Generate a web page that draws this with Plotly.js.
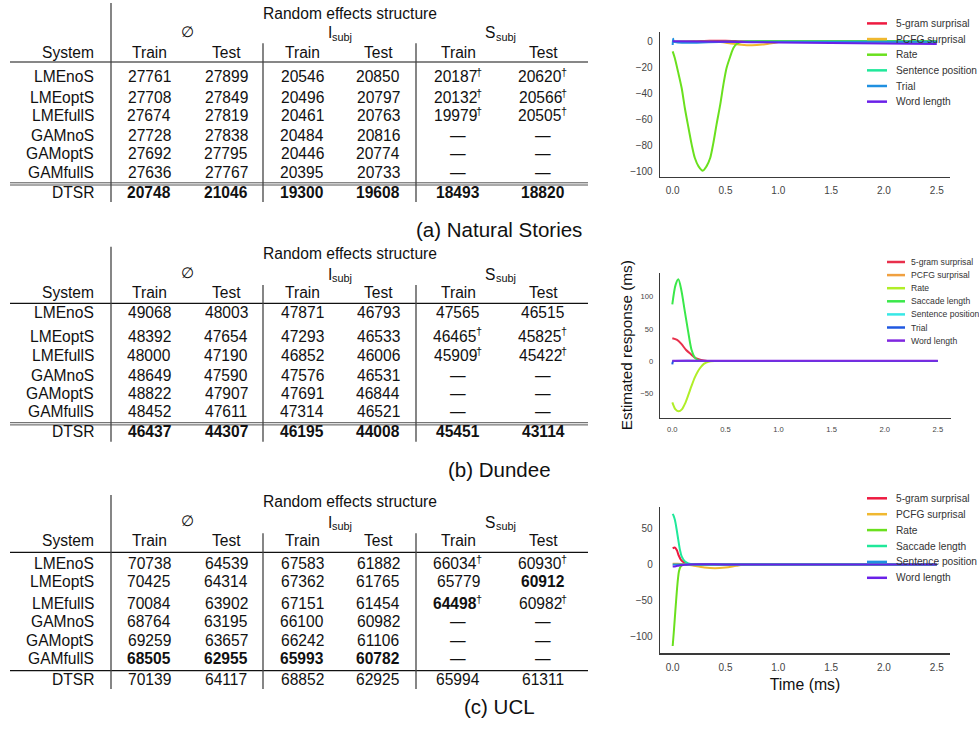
<!DOCTYPE html>
<html><head><meta charset="utf-8">
<script src="https://cdn.plot.ly/plotly-3.0.1.min.js"></script>
<style>html,body{margin:0;padding:0;background:#fff;}#chart{width:979px;height:740px;}</style>
</head><body><div id="chart"></div>
<script>
// ---------------- TABLE DATA ----------------
const systems = ['LMEnoS','LMEoptS','LMEfullS','GAMnoS','GAMoptS','GAMfullS','DTSR'];
const columnHeads = ['Train','Test','Train','Test','Train','Test'];
const groupMain = ['\u2205','I','S'];
const groupSub = ['','subj','subj'];
const tableTitle = 'Random effects structure';

const nsTable = [
  [27761,27899,20546,20850,20187,20620],
  [27708,27849,20496,20797,20132,20566],
  [27674,27819,20461,20763,19979,20505],
  [27728,27838,20484,20816,null,null],
  [27692,27795,20446,20774,null,null],
  [27636,27767,20395,20733,null,null],
  [20748,21046,19300,19608,18493,18820]];
const nsDagger = [[0,4],[0,5],[1,4],[1,5],[2,4],[2,5]];
const nsBold = [[6,0],[6,1],[6,2],[6,3],[6,4],[6,5]];

const duTable = [
  [49068,48003,47871,46793,47565,46515],
  [48392,47654,47293,46533,46465,45825],
  [48000,47190,46852,46006,45909,45422],
  [48649,47590,47576,46531,null,null],
  [48822,47907,47691,46844,null,null],
  [48452,47611,47314,46521,null,null],
  [46437,44307,46195,44008,45451,43114]];
const duDagger = [[1,4],[1,5],[2,4],[2,5]];
const duBold = [[6,0],[6,1],[6,2],[6,3],[6,4],[6,5]];

const uclTable = [
  [70738,64539,67583,61882,66034,60930],
  [70425,64314,67362,61765,65779,60912],
  [70084,63902,67151,61454,64498,60982],
  [68764,63195,66100,60982,null,null],
  [69259,63657,66242,61106,null,null],
  [68505,62955,65993,60782,null,null],
  [70139,64117,68852,62925,65994,61311]];
const uclDagger = [[0,4],[0,5],[2,4],[2,5]];
const uclBold = [[1,5],[2,4],[5,0],[5,1],[5,2],[5,3]];

const captions = ['(a) Natural Stories','(b) Dundee','(c) UCL'];

// ---------------- LINE DATA ----------------
const xTickVals = [0,0.5,1,1.5,2,2.5];
const xTickText = ['0.0','0.5','1.0','1.5','2.0','2.5'];
const nsYTicks = [-100,-80,-60,-40,-20,0];
const duYTicks = [-50,0,50,100];
const uclYTicks = [-100,-50,0,50];

// (a) Natural Stories
const nsNames = ['5-gram surprisal','PCFG surprisal','Rate','Sentence position','Trial','Word length'];
const nsFiveX = [0,0.2,0.35,0.5,0.65,0.8,1.0,1.5,2.0,2.5];
const nsFiveY = [0,0.3,0.8,0.8,0.4,0.1,0,0,0,0];
const nsPcfgX = [0,0.3,0.45,0.55,0.65,0.75,0.85,0.95,1.03,1.5,2.0,2.5];
const nsPcfgY = [0,0,-0.2,-1.3,-2.3,-2.7,-2.2,-1.0,-0.1,0,0,0];
const nsRateX = [0,0.02,0.05,0.085,0.115,0.15,0.18,0.21,0.245,0.285,0.32,0.355,0.385,0.415,0.45,0.48,0.51,0.545,0.575,0.605,0.64,0.7,1.0,1.5,2.0,2.5];
const nsRateY = [-7.4,-12.5,-22.8,-35.6,-51,-66.4,-79.2,-89.5,-95.9,-99.2,-95.9,-89.5,-77.9,-63.8,-48.4,-33,-20.2,-11.3,-4.8,-1.8,-0.5,0.3,0.5,0.5,0.5,0.5];
const nsSentX = [0,0.5,1.0,1.5,2.0,2.5];
const nsSentY = [0,0,0,0,0,0];
const nsTrialX = [0,0.004,0.012,0.5,1.0,1.5,2.0,2.5];
const nsTrialY = [-2.5,2.4,0,0,0,0,0,0];
const nsWordX = [0,0.5,1.0,1.5,2.0,2.5];
const nsWordY = [0.3,-0.1,-0.5,-0.9,-1.3,-1.8];

// (b) Dundee
const duNames = ['5-gram surprisal','PCFG surprisal','Rate','Saccade length','Sentence position','Trial','Word length'];
const duFiveX = [0,0.045,0.085,0.13,0.18,0.22,0.27,0.33,0.5,1.0,1.5,2.0,2.5];
const duFiveY = [35.4,32.8,26.6,17.2,10,4.5,1.7,0.3,0,0,0,0,0];
const duPcfgX = [0,0.5,1.0,1.5,2.0,2.5];
const duPcfgY = [0,0,0,0,0,0];
const duRateX = [0,0.03,0.06,0.09,0.12,0.15,0.18,0.21,0.24,0.27,0.3,0.34,0.4,0.6,1.0,1.5,2.0,2.5];
const duRateY = [-64,-75,-78,-75,-66,-53,-39,-26,-16,-9,-4,-1,0,0,0,0,0,0];
const duSacX = [0,0.03,0.057,0.085,0.115,0.148,0.18,0.21,0.24,0.27,0.3,0.5,1.0,1.5,2.0,2.5];
const duSacY = [88,118,127,110,80,47,18,6,1.5,0.3,0,0,0,0,0,0];
const duSentX = [0,0.5,1.0,1.5,2.0,2.5];
const duSentY = [0,0,0,0,0,0];
const duTrialX = [0,0.005,0.015,0.5,1.0,1.5,2.0,2.5];
const duTrialY = [-5,-1,0,0,0,0,0,0];
const duWordX = [0,0.5,1.0,1.5,2.0,2.5];
const duWordY = [0.5,0.5,0.5,0.5,0.5,0.5];

// (c) UCL
const uclNames = ['5-gram surprisal','PCFG surprisal','Rate','Saccade length','Sentence position','Word length'];
const uclFiveX = [0,0.02,0.04,0.055,0.08,0.11,0.15,0.3,0.6,1.0,1.5,2.0,2.5];
const uclFiveY = [22.3,23.5,19.5,13,6,2.4,0.3,0,0,0,0,0,0];
const uclPcfgX = [0,0.05,0.1,0.15,0.2,0.3,0.4,0.5,0.6,0.68,1.0,1.5,2.0,2.5];
const uclPcfgY = [1,1,0.5,-0.5,-1.8,-4.2,-5.3,-4.3,-2,-0.3,0,0,0,0];
const uclRateX = [0,0.01,0.02,0.03,0.04,0.05,0.06,0.075,0.1,0.15,0.3,0.6,1.0,1.5,2.0,2.5];
const uclRateY = [-113,-95,-75,-55,-36,-20,-9,-3,-0.5,0,0,0,0,0,0,0];
const uclSacX = [0,0.01,0.022,0.038,0.053,0.069,0.085,0.116,0.148,0.2,0.4,1.0,1.5,2.0,2.5];
const uclSacY = [70,67,61,48,34,20,11,4,1.5,0.2,0,0,0,0,0];
const uclSentX = [0,0.5,1.0,1.5,2.0,2.5];
const uclSentY = [0,0,0,0,0,0];
const uclWordX = [0,0.03,0.06,0.1,0.15,0.5,1.0,1.5,2.0,2.5];
const uclWordY = [-3,-2.5,-1.5,-0.7,0,0,0,0,0,0];

// ---------------- STYLE ----------------
const FONT = 'Liberation Sans, Arial, Helvetica, sans-serif';
const nsColors = ['#ee1a40','#f0b830','#6ae01e','#20e89a','#2090e0','#6a20e8'];
const duColors = ['#e8304c','#f0a040','#b0ee28','#3ae84a','#38e8e6','#2058e0','#8028e0'];
const uclColors = ['#ee1a40','#f0b830','#6ae01e','#20e89a','#2090e0','#6a20e8'];

const PX = v => v/979;
const PY = v => 1 - v/740;

const traces = [];
function addSeries(names, colors, xs, ys, xa, ya){
  for(let i=0;i<names.length;i++){
    traces.push({type:'scatter', mode:'lines', name:names[i], x:xs[i], y:ys[i],
      xaxis:xa, yaxis:ya, showlegend:false, hoverinfo:'skip',
      line:{color:colors[i], width:2, shape:'spline', smoothing:0.8}});
  }
}
addSeries(nsNames, nsColors,
  [nsFiveX,nsPcfgX,nsRateX,nsSentX,nsTrialX,nsWordX],
  [nsFiveY,nsPcfgY,nsRateY,nsSentY,nsTrialY,nsWordY],'x','y');
addSeries(duNames, duColors,
  [duFiveX,duPcfgX,duRateX,duSacX,duSentX,duTrialX,duWordX],
  [duFiveY,duPcfgY,duRateY,duSacY,duSentY,duTrialY,duWordY],'x2','y2');
addSeries(uclNames, uclColors,
  [uclFiveX,uclPcfgX,uclRateX,uclSacX,uclSentX,uclWordX],
  [uclFiveY,uclPcfgY,uclRateY,uclSacY,uclSentY,uclWordY],'x3','y3');

const annotations = [];
const shapes = [];
function txt(x,y,text,size,anchor,opts){
  opts = opts||{};
  annotations.push({xref:'paper',yref:'paper',x:PX(x),y:PY(y),text:text,
    showarrow:false,xanchor:anchor||'center',yanchor:'middle',borderpad:0,borderwidth:0,
    font:{family:opts.family||FONT,size:size,color:opts.color||'#111',weight:opts.bold?'bold':'normal'}});
}
function hline(x0,x1,y,color,w){
  shapes.push({type:'line',xref:'paper',yref:'paper',x0:PX(x0),x1:PX(x1),y0:PY(y),y1:PY(y),line:{color:color,width:w}});
}
function vline(x,y0,y1,color,w){
  shapes.push({type:'line',xref:'paper',yref:'paper',x0:PX(x),x1:PX(x),y0:PY(y0),y1:PY(y1),line:{color:color,width:w}});
}

const colX = [149,226,302,378,458,543];
const groupX = [187.5,340,500.5];
const TFS = 15.6;          // table font size
const SFS = 10.9;          // superscript / subscript size
const EM = TFS;
function drawTable(values, daggers, bolds, cfg){
  txt(349.5, cfg.titleY, tableTitle, TFS);
  // group headers: ∅, I_subj, S_subj
  txt(groupX[0], cfg.groupY, groupMain[0], 15, 'center', {family:'DejaVu Sans, sans-serif'});
  const mainW = [0, 0.278*EM, 0.667*EM];
  const subW = 1.834*SFS;
  for(let i=1;i<3;i++){
    const left = groupX[i] - (mainW[i]+subW)/2;
    txt(left, cfg.groupY+1, groupMain[i], TFS, 'left');
    txt(left+mainW[i]+0.3, cfg.groupY+5, groupSub[i], SFS, 'left');
  }
  txt(94, cfg.headY, 'System', TFS, 'right');
  columnHeads.forEach((h,i)=>txt(colX[i], cfg.headY, h, TFS));
  const isIn = (list,r,c)=>list.some(p=>p[0]===r&&p[1]===c);
  const numW = 5*0.556*EM;
  values.forEach((row,r)=>{
    txt(94, cfg.rowY[r], systems[r], TFS, 'right');
    row.forEach((v,c)=>{
      if(v===null){ txt(colX[c], cfg.rowY[r], '\u2014', TFS); return; }
      const bold = isIn(bolds,r,c);
      if(isIn(daggers,r,c)){
        const cx = colX[c] - 3;
        txt(cx, cfg.rowY[r], String(v), TFS, 'center', {bold:bold});
        txt(cx + numW/2 - 0.8, cfg.rowY[r]-4.5, '\u2020', SFS, 'left');
      } else {
        txt(colX[c], cfg.rowY[r], String(v), TFS, 'center', {bold:bold});
      }
    });
  });
  hline(10,588,cfg.ruleY,'#111',1.2);
  if(cfg.dbl){ hline(10,588,cfg.lastRule,'#555',1); hline(10,588,cfg.lastRule+2.2,'#555',1); }
  else hline(10,588,cfg.lastRule,'#111',1.2);
  vline(111,cfg.vTop1,cfg.vBot,'#444',1.3);
  vline(263,cfg.vTop2,cfg.vBot,'#444',1.3);
  vline(416,cfg.vTop2,cfg.vBot,'#444',1.3);
  txt(499, cfg.capY, cfg.caption, 20.5);
}
drawTable(nsTable, nsDagger, nsBold, {titleY:13, groupY:32, headY:52.3, ruleY:62,
  rowY:[76.5,97,115.5,135,153.7,172,192], dbl:true, lastRule:182.8, vTop1:3, vTop2:43.3, vBot:202,
  capY:230, caption:captions[0]});
drawTable(duTable, duDagger, duBold, {titleY:253.3, groupY:273.3, headY:292.3, ruleY:303.3,
  rowY:[312.7,336,355.5,375,393.3,411.7,431.7], dbl:true, lastRule:422.7, vTop1:246.7, vTop2:285, vBot:441.7,
  capY:470, caption:captions[1]});
drawTable(uclTable, uclDagger, uclBold, {titleY:501.7, groupY:521, headY:540.7, ruleY:552.3,
  rowY:[563.8,581.7,603,621,640,658.3,679], dbl:false, lastRule:670.7, vTop1:495, vTop2:533.3, vBot:689,
  capY:706.7, caption:captions[2]});

// manual legends
function drawLegend(names, colors, lx0, lx1, tx, y0, dy, size){
  names.forEach((n,i)=>{
    const y = y0 + i*dy;
    hline(lx0, lx1, y, colors[i], 2.5);
    txt(tx, y, n, size, 'left', {color:'#333'});
  });
}
drawLegend(nsNames, nsColors, 867, 887, 896, 23.4, 15.65, 10.2);
drawLegend(duNames, duColors, 887, 905, 911, 262, 13.1, 8.6);
drawLegend(uclNames, uclColors, 867, 887, 896, 498.3, 15.9, 10.2);

function axisBase(fs){
  return {showline:true, linecolor:'#3a3a3a', linewidth:1.3, showgrid:false, zeroline:false,
    ticks:'outside', ticklen:4, tickcolor:'rgba(0,0,0,0)', fixedrange:true,
    tickfont:{family:FONT,size:fs,color:'#444'}};
}
const layout = {
  width:979, height:740, margin:{l:0,r:0,t:0,b:0},
  paper_bgcolor:'#ffffff', plot_bgcolor:'#ffffff', showlegend:false,
  xaxis:Object.assign(axisBase(10),{domain:[PX(660),PX(950)],range:[-0.12,2.625],anchor:'y',tickvals:xTickVals,ticktext:xTickText}),
  yaxis:Object.assign(axisBase(10),{domain:[PY(177),PY(32)],range:[-104.1,7.5],anchor:'x',tickvals:nsYTicks}),
  xaxis2:Object.assign(axisBase(7.6),{domain:[PX(660),PX(951)],range:[-0.116,2.624],anchor:'y2',tickvals:xTickVals,ticktext:xTickText}),
  yaxis2:Object.assign(axisBase(7.6),{domain:[PY(417.7),PY(272.7)],range:[-87.9,137.2],anchor:'x2',tickvals:duYTicks,
    title:{text:'Estimated response (ms)',font:{family:FONT,size:15.3,color:'#111'},standoff:4}}),
  xaxis3:Object.assign(axisBase(10),{domain:[PX(660),PX(950)],range:[-0.12,2.625],anchor:'y3',tickvals:xTickVals,ticktext:xTickText,
    title:{text:'Time (ms)',font:{family:FONT,size:15.8,color:'#111'},standoff:7}}),
  yaxis3:Object.assign(axisBase(10),{domain:[PY(653.3),PY(506.7)],range:[-123.1,79.9],anchor:'x3',tickvals:uclYTicks}),
  annotations:annotations, shapes:shapes
};
Plotly.newPlot('chart', traces, layout, {staticPlot:true, displayModeBar:false});
</script></body></html>
